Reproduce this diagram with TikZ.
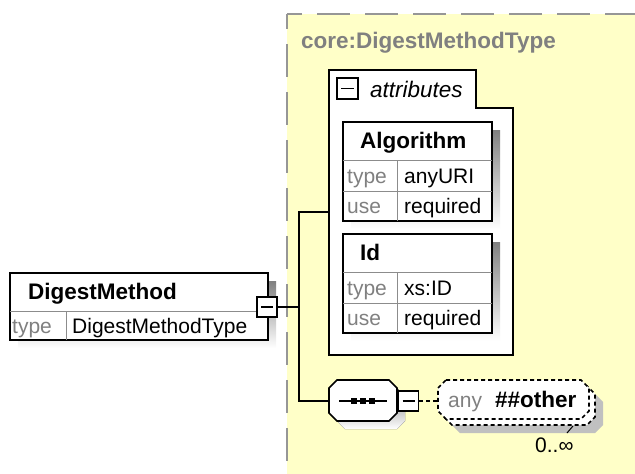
\documentclass[tikz,border=0pt]{standalone}
\usepackage{fontspec}
\setmainfont{Liberation Sans}
\usepackage{tikz}
\usetikzlibrary{calc}
\definecolor{typebg}{RGB}{255, 255, 200}
\definecolor{typeline}{RGB}{150, 150, 150}
\definecolor{shade}{RGB}{192, 192, 192}
\definecolor{textgray}{RGB}{128, 128, 128}
\definecolor{divgray}{RGB}{140, 140, 140}

\tikzset{
  outline/.style={draw=black, line width=1.6pt},
  divider/.style={draw=divgray, line width=1pt},
  plaintext/.style={font=\fontsize{21}{24}\selectfont, inner sep=0pt, anchor=base west},
  boldtext/.style={font=\fontsize{22.5}{26}\selectfont\bfseries, inner sep=0pt, anchor=base west},
  minusbox/.style={outline, fill=white, rectangle, minimum size=20pt, inner sep=0pt,
    path picture={\draw[line width=1.6pt] ([xshift=4pt]path picture bounding box.west)
      -- ([xshift=-4pt]path picture bounding box.east);}},
  anyshadow/.style={fill=shade},
  anyline/.style={outline, fill=white, dash pattern=on 4pt off 3pt},
}

\begin{document}
\begin{tikzpicture}[x=1pt, y=-1pt]
  \useasboundingbox (0, 0) rectangle (635, 474);

  \fill[typebg] (287, 14) rectangle (635, 474);
  \draw[typeline, line width=2pt, dash pattern=on 33pt off 15pt, dash phase=18pt]
    (287, 14) -- (640, 14);
  \draw[typeline, line width=2pt, dash pattern=on 33pt off 15pt, dash phase=18pt]
    (287, 14) -- (287, 480);
  \node[boldtext, textgray] (typename) at (301, 48) {core:DigestMethodType};

  % element
  \fill[shade] (18, 281) rectangle (276, 348);
  \filldraw[fill=white, outline] (10, 273) rectangle (268, 340);
  \draw[divider] (10, 311) -- (268, 311) (66, 311) -- (66, 340);
  \node[boldtext] (elname) at (28, 299) {DigestMethod};
  \node[plaintext, textgray] (eltypekey) at (12, 333) {type};
  \node[plaintext] (eltype) at (72, 333) {DigestMethodType};
  \node[minusbox] (elminus) at (267, 307) {};

  % attributes
  \filldraw[fill=white, outline]
    (329, 355) -- (329, 70) -- (476, 70) -- (476, 108) -- (513, 108) -- (513, 355) -- cycle;
  \node[minusbox, minimum size=21pt] (attrminus) at (347.5, 88.5) {};
  \node[plaintext, font=\fontsize{22.5}{26}\selectfont\itshape] (attrlabel) at (370, 97) {attributes};

  \foreach \atop/\aname/\atype [count=\i] in {122/Algorithm/anyURI, 234/Id/xs:ID} {
    \fill[shade] (351, \atop + 8) rectangle (500, \atop + 107);
    \filldraw[fill=white, outline] (343, \atop) rectangle (492, \atop + 99);
    \draw[divider] (343, \atop + 38) -- (492, \atop + 38)
      (343, \atop + 69) -- (492, \atop + 69) (397, \atop + 38) -- (397, \atop + 99);
    \node[boldtext] (attr\i) at (360, \atop + 26.5) {\aname};
    \node[plaintext, textgray] (attr\i typekey) at (347, \atop + 61) {type};
    \node[plaintext] (attr\i type) at (404, \atop + 61) {\atype};
    \node[plaintext, textgray] (attr\i usekey) at (347, \atop + 91.5) {use};
    \node[plaintext] (attr\i use) at (404, \atop + 91.5) {required};
  }

  % sequence
  \fill[shade, shift={(8, 8)}]
    (337, 380) -- (389, 380) -- (397, 388) -- (397, 413) -- (389, 421) -- (337, 421) -- (329, 413) -- (329, 388) -- cycle;
  \filldraw[fill=white, outline]
    (337, 380) -- (389, 380) -- (397, 388) -- (397, 413) -- (389, 421) -- (337, 421) -- (329, 413) -- (329, 388) -- cycle;
  \coordinate (seqin) at (329, 401);
  \coordinate (seqout) at (397, 401);
  \coordinate (seqmid) at (363, 401);
  \draw[line width=1.6pt] ([xshift=10pt]seqin) -- ([xshift=-10pt]seqout);
  \foreach \dx in {-9, 0, 9}
    \fill ([shift={(\dx - 3, -3)}]seqmid) rectangle +(6, 6);
  \node[minusbox, anchor=west] (seqminus) at ([xshift=0.8pt]seqout) {};

  \coordinate (trunktop) at (299, 212);
  \coordinate (trunkbot) at (299, 401);
  \coordinate (attrin) at (329, 212);
  \draw[outline] (elminus.east) -- (elminus.east -| trunktop);
  \draw[outline] (attrin) -- (trunktop) -- (trunkbot) -- (seqin);

  % any
  \foreach \d/\look in {14/anyshadow, 6/anyline, 0/anyline}
    \path[\look, shift={(\d, \d)}]
      (446, 380) -- (581, 380) -- (589, 388) -- (589, 411) -- (581, 419) -- (446, 419) -- (438, 411) -- (438, 388) -- cycle;
  \coordinate (anyin) at (438, 401);
  \draw[outline, dash pattern=on 4pt off 3pt] (seqminus.east) -- (anyin);
  \node[plaintext, textgray] (anykey) at (448, 407) {any};
  \node[boldtext] (anyns) at (495, 407) {\#\#other};
  \draw[line width=1pt] (573, 426) -- (567, 433);
  \node[plaintext] (anymult) at (535, 452) {0..∞};

\end{tikzpicture}
\end{document}
